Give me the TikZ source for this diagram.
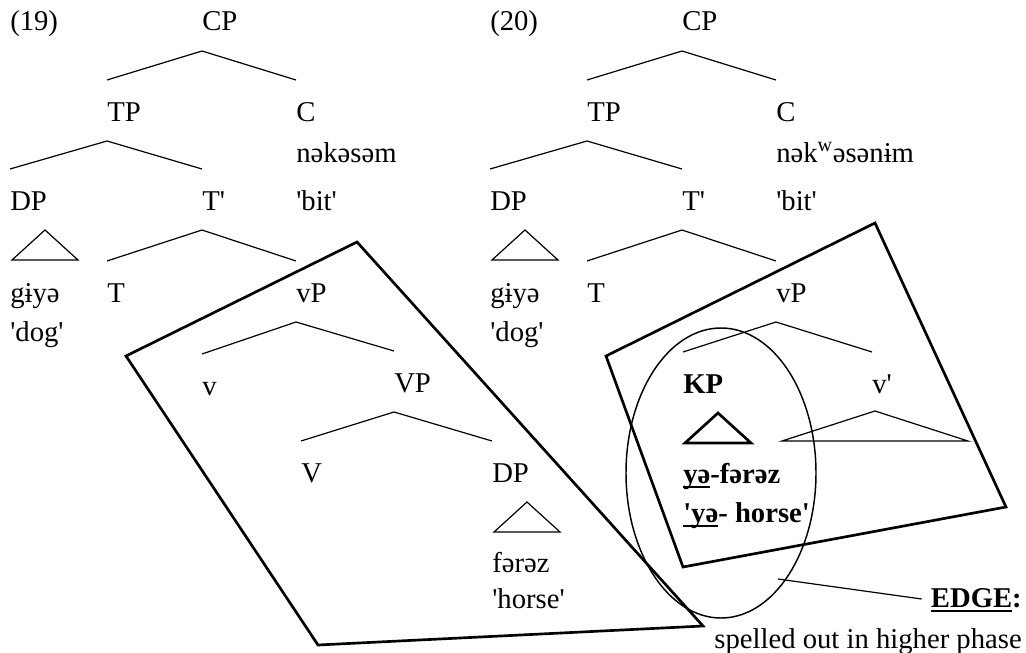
\documentclass[tikz,border=0pt]{standalone}
\usepackage{fontspec}
\setmainfont{Liberation Serif}
\usetikzlibrary{calc}

\newcommand{\treefont}{\fontsize{21.5pt}{25pt}\selectfont}
\newcommand{\q}{\textquotesingle}
\newcommand{\ulin}[1]{% underline sitting just under the baseline
  \setbox0=\hbox{#1}\rlap{\rule[-0.17em]{\wd0}{0.07em}}\box0}
\newcommand{\branch}[3]{% mother #1 over daughters #2 and #3
  \draw[branch] ($(#2.base west)+(0,-41)$) -- ($(#1.base west)+(0,20)$)
    -- ($(#3.base west)+(0,-41)$);
}
\newcommand{\roof}[2][]{% triangle under phrase #2
  \draw[branch,#1] ($(#2.base west)+(35,20)$) -- ($(#2.base west)+(68,50)$)
    -- ($(#2.base west)+(2,50)$) -- cycle;
}
\tikzset{
  lbl/.style={anchor=base west, inner sep=0pt, font=\treefont},
  branch/.style={line width=0.9pt, line join=miter},
  frame/.style={line width=2pt, line join=miter},
}

\begin{document}
\begin{tikzpicture}[x=0.75pt,y=-0.75pt,every node/.style={lbl}]
  \useasboundingbox (0,0) rectangle (1026,653);
  % (19)
  \node (ex19) at (10,31) {(19)};
  \node (cp1) at (202,31) {CP};
  \node (tp1) at (107,121) {TP};
  \node (c1) at (296,121) {C};
  \node (cv1) at (296,162) {nəkəsəm};
  \node (cg1) at (296,210) {\q bit\q};
  \node (dp1) at (10,210) {DP};
  \node (tb1) at (202,210) {T\q};
  \node (dw1) at (10,302) {gɨyə};
  \node (dg1) at (10,341) {\q dog\q};
  \node (t1) at (107,302) {T};
  \node (vp1) at (296,302) {vP};
  \node (lv1) at (202,395) {v};
  \node (vpp) at (394,392) {VP};
  \node (vv) at (301,482) {V};
  \node (dp2) at (492,482) {DP};
  \node (fz) at (492,572) {fərəz};
  \node (hs) at (492,608) {\q horse\q};
  \branch{cp1}{tp1}{c1}
  \branch{tp1}{dp1}{tb1}
  \branch{tb1}{t1}{vp1}
  \branch{vp1}{lv1}{vpp}
  \branch{vpp}{vv}{dp2}
  \roof{dp1} \roof{dp2}
  \draw[frame] (126,356) -- (357,242) -- (703,626) -- (318,645) -- cycle;
  % (20)
  \node (ex20) at (490,31) {(20)};
  \node (cp2) at (682,31) {CP};
  \node (tp2) at (587,121) {TP};
  \node (c2) at (776,121) {C};
  \node (cv2) at (776,162) {nək\textsuperscript{w}əsənɨm};
  \node (cg2) at (776,210) {\q bit\q};
  \node (dp3) at (490,210) {DP};
  \node (tb2) at (682,210) {T\q};
  \node (dw2) at (490,302) {gɨyə};
  \node (dg2) at (490,341) {\q dog\q};
  \node (t2) at (587,302) {T};
  \node (vp2) at (776,302) {vP};
  \node[font=\treefont\bfseries] (kp) at (683,393) {KP};
  \node (vb) at (872,393) {v\q};
  \node[font=\treefont\bfseries] (kf) at (683,483) {\ulin{yə}-fərəz};
  \node[font=\treefont\bfseries] (kh) at (683,522) {\ulin{\q yə}- horse\q};
  \branch{cp2}{tp2}{c2}
  \branch{tp2}{dp3}{tb2}
  \branch{tb2}{t2}{vp2}
  \branch{vp2}{kp}{vb}
  \roof{dp3} \roof[line width=2pt]{kp}
  \draw[branch] ($(vb.base west)+(3,18)$) -- ($(vb.base west)+(96,48)$)
    -- ($(vb.base west)+(-90,48)$) -- cycle;
  \draw[frame] (606,356) -- (875,223) -- (1006,507) -- (683,567) -- cycle;
  \draw[line width=1.1pt] (721,473) ellipse [x radius=95, y radius=145];
  % edge label
  \node[font=\treefont\bfseries, anchor=base east] (edge) at (1022,607) {\ulin{EDGE}:};
  \node[anchor=base east] (spo) at (1022,648) {spelled out in higher phase};
  \coordinate (edgept) at (778,579);
  \draw[branch] (edgept) -- ($(edge.base west)+(-9,-8)$);
\end{tikzpicture}
\end{document}
